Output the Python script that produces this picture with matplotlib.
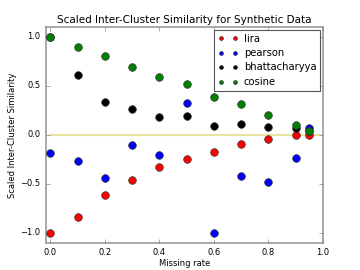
import matplotlib
matplotlib.use('Agg')
import matplotlib.pyplot as plt

plt.style.use('classic')

rates = [0.0, 0.1, 0.2, 0.3, 0.4, 0.5, 0.6, 0.7, 0.8, 0.9, 0.95]
lira = [-1.0, -0.84, -0.615, -0.46, -0.33, -0.25, -0.17, -0.095, -0.047, -0.006, -0.005]
pearson = [-0.18, -0.27, -0.44, -0.10, -0.21, 0.33, -1.0, -0.42, -0.48, -0.24, 0.065]
bhatta = [1.0, 0.61, 0.34, 0.26, 0.18, 0.19, 0.086, 0.11, 0.08, 0.07, 0.04]
cosine = [1.0, 0.90, 0.80, 0.69, 0.59, 0.52, 0.39, 0.31, 0.20, 0.096, 0.035]

fig = plt.figure(figsize=(3.6, 2.7), dpi=100)
ax = fig.add_axes([0.127, 0.101, 0.770, 0.799])

ax.plot([0.0, 1.0], [0.0, 0.0], color='#e8e4a0', lw=1.5, zorder=1)
series = [(lira, 'lira', 'red'), (pearson, 'pearson', 'blue'),
          (bhatta, 'bhattacharyya', 'black'), (cosine, 'cosine', 'green')]
for vals, name, col in series:
    ax.plot(rates, vals, 'o', color=col, markersize=5.5, mec='#333333', mew=0.5,
            label=name, zorder=3)

ax.set_xlim(-0.017, 1.0)
ax.set_ylim(-1.1, 1.1)
ax.set_xticks([0.0, 0.2, 0.4, 0.6, 0.8, 1.0])
ax.set_yticks([-1.0, -0.5, 0.0, 0.5, 1.0])
ax.tick_params(labelsize=6, length=3, color='#888888')
for s in ax.spines.values():
    s.set_color('#999999')
    s.set_linewidth(1.2)

ax.set_title('Scaled Inter-Cluster Similarity for Synthetic Data', fontsize=7.5, pad=3)
ax.set_xlabel('Missing rate', fontsize=6, labelpad=1)
ax.set_ylabel('Scaled Inter-Cluster Similarity', fontsize=6, labelpad=2)

leg = ax.legend(loc='upper right', fontsize=7.2, numpoints=2, markerscale=0.5,
                borderaxespad=0.25, handlelength=2.0, handletextpad=0.6,
                labelspacing=0.45, borderpad=0.4)
leg.get_frame().set_edgecolor('#555555')
leg.get_frame().set_linewidth(0.8)

fig.savefig('out.png', dpi=100)
